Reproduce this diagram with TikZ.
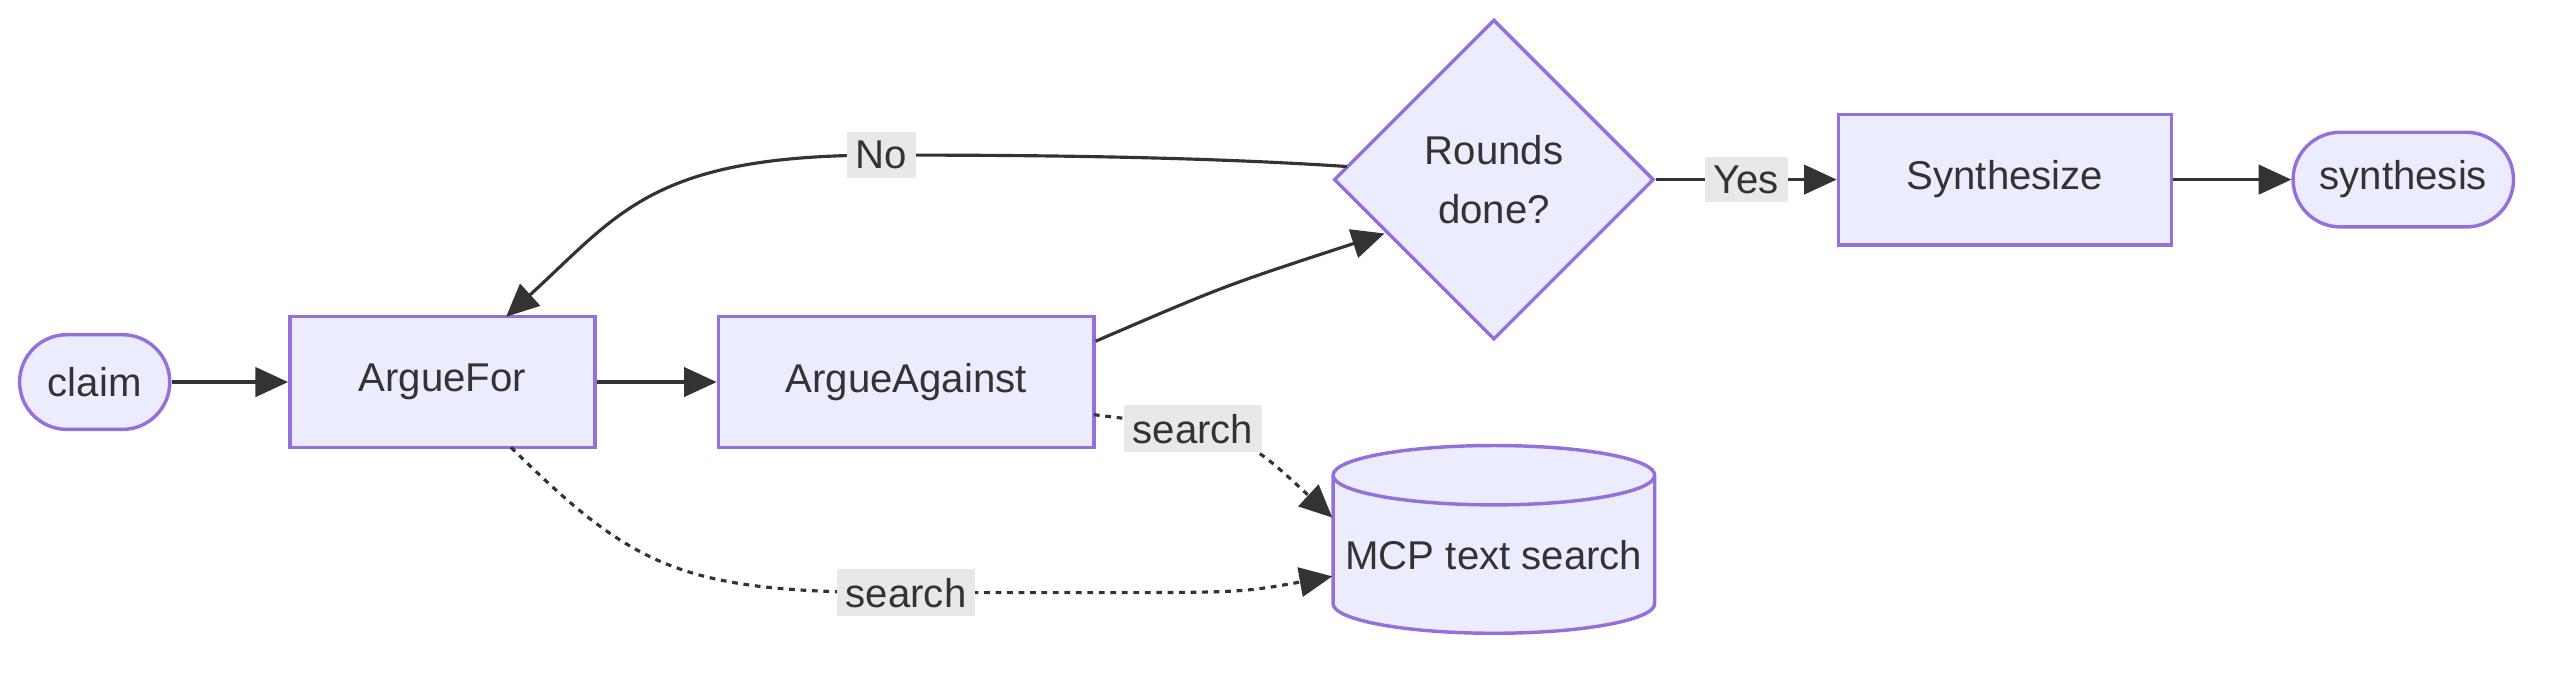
\documentclass[tikz,border=0pt]{standalone}
\usepackage{fontspec}
\setmainfont{Liberation Sans}
\usetikzlibrary{arrows.meta,shapes.geometric,positioning}
\definecolor{nodefill}{HTML}{ECECFF}
\definecolor{nodeline}{HTML}{9370DB}
\definecolor{ink}{HTML}{333333}
\definecolor{lblbg}{HTML}{E8E8E8}

\begin{document}
\begin{tikzpicture}
  [>={Triangle[length=2mm,width=1.8mm]},font=\fontsize{7}{9}\selectfont,
   every node/.style={text=ink},
   box/.style={rectangle,draw=nodeline,fill=nodefill,line width=0.6pt,inner sep=0pt},
   pill/.style={box,rounded corners=2.9mm},
   flow/.style={->,ink,line width=0.55pt},
   lookup/.style={flow,dash pattern=on 1pt off 1pt},
   tag/.style={fill=lblbg,inner sep=1.5pt}]

  \useasboundingbox (0,0) rectangle (15.68,-4.16);

  % nodes
  \node [pill,minimum width=0.92cm,minimum height=0.58cm] (claim) at (0.58,-2.34) {claim};
  \node [box,minimum width=1.87cm,minimum height=0.8cm] (for) at (2.71,-2.34) {ArgueFor};
  \node [box,minimum width=2.30cm,minimum height=0.8cm] (against) at (5.55,-2.34) {ArgueAgainst};
  \node [diamond,draw=nodeline,fill=nodefill,line width=0.6pt,minimum width=1.96cm,minimum height=1.96cm,
         align=center,inner sep=0pt] (done) at (9.15,-1.10) {Rounds\\[0.5mm]done?};
  \node [box,minimum width=2.04cm,minimum height=0.8cm] (synth) at (12.28,-1.10) {Synthesize};
  \node [pill,minimum width=1.35cm,minimum height=0.58cm] (out) at (14.72,-1.10) {synthesis};
  \node [cylinder,shape border rotate=90,draw=nodeline,fill=nodefill,line width=0.6pt,aspect=0.2,
         minimum width=1.97cm,minimum height=1.15cm,inner sep=0pt] (mcp) at (9.15,-3.40) {MCP text search};

  % connectors
  \draw [flow] (claim) -- (for);
  \draw [flow] (for) -- (against);
  \draw [flow] (against.east) ++(0,0.25) coordinate (a1)
    (a1) .. controls (7.5,-1.75) .. (8.48,-1.43);
  \draw [flow] (8.25,-1.02) .. controls (7.2,-0.95) and (6.0,-0.95) .. (5.4,-0.95)
    node [tag,pos=1] {No} -- (5.4,-0.95) .. controls (4.0,-0.95) and (3.8,-1.3) .. (3.1,-1.94);
  \draw [flow] (done) -- node [tag] {Yes} (synth);
  \draw [flow] (synth) -- (out);
  \draw [lookup] (6.70,-2.54) .. controls (7.6,-2.65) .. (8.16,-3.17)
    node [tag,pos=0.3] {search};
  \draw [lookup] (3.13,-2.74) .. controls (3.9,-3.5) and (4.2,-3.63) .. (5.55,-3.63)
    node [tag,pos=1] {search} -- (6.6,-3.63) .. controls (7.6,-3.63) .. (8.16,-3.53);
\end{tikzpicture}
\end{document}
